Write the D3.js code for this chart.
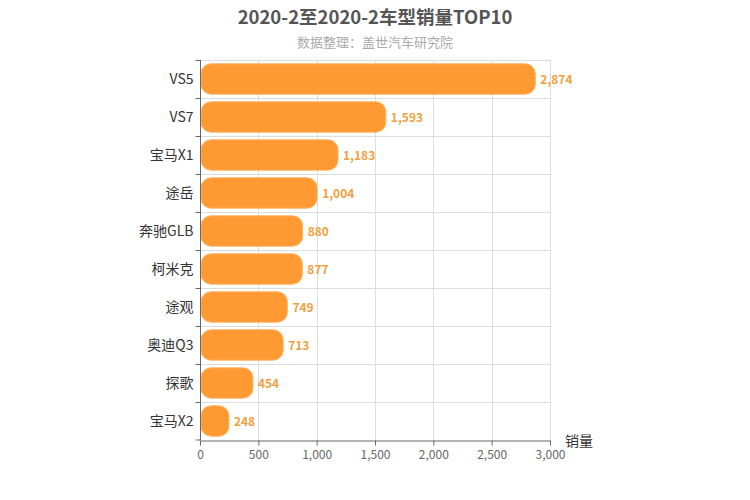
<!DOCTYPE html>
<html>
<head>
<meta charset="utf-8">
<script src="https://cdn.jsdelivr.net/npm/d3@7"></script>
<style>
  body { margin: 0; background: #fff; }
  svg { font-family: "Noto Sans CJK SC", "Noto Sans", sans-serif; }
</style>
</head>
<body>
<svg id="svg"></svg>
<script>
const models = ["VS5", "VS7", "宝马X1", "途岳", "奔驰GLB", "柯米克", "途观", "奥迪Q3", "探歌", "宝马X2"];
const sales = [2874, 1593, 1183, 1004, 880, 877, 749, 713, 454, 248];
const xTicks = [0, 500, 1000, 1500, 2000, 2500, 3000];

const layout = {width: 750, height: 500, left: 200, right: 550, top: 60, bottom: 440};

const svg = d3.select("#svg").attr("width", layout.width).attr("height", layout.height);

const x = d3.scaleLinear().domain([0, 3000]).range([layout.left, layout.right]);
const y = d3.scaleBand().domain(models).range([layout.top, layout.bottom]);

// title
svg.append("text").attr("x", 375).attr("y", 24).attr("text-anchor", "middle")
   .attr("font-size", 18.5).attr("font-weight", "bold").attr("fill", "#555")
   .text("2020-2至2020-2车型销量TOP10");
svg.append("text").attr("x", 375).attr("y", 47).attr("text-anchor", "middle")
   .attr("font-size", 13).attr("fill", "#aaa")
   .text("数据整理：盖世汽车研究院");

// grid
const grid = svg.append("g").attr("stroke", "#ddd").attr("stroke-width", 1);
grid.selectAll(".vg").data(xTicks.slice(1)).join("line")
    .attr("x1", d => Math.round(x(d)) + 0.5).attr("x2", d => Math.round(x(d)) + 0.5)
    .attr("y1", layout.top).attr("y2", layout.bottom);
grid.selectAll(".hg").data(models).join("line")
    .attr("x1", layout.left).attr("x2", layout.right)
    .attr("y1", d => Math.round(y(d)) + 0.5).attr("y2", d => Math.round(y(d)) + 0.5);

// bars
const bh = y.bandwidth() * 0.8;
svg.selectAll(".bar").data(models).join("rect")
   .attr("x", layout.left + 1)
   .attr("y", d => y(d) + (y.bandwidth() - bh) / 2)
   .attr("width", (d, i) => x(sales[i]) - layout.left - 1)
   .attr("height", bh)
   .attr("rx", 10).attr("ry", 10)
   .attr("fill", "#ff9a33").attr("stroke", "#ffb366").attr("stroke-width", 1);

svg.selectAll(".lbl").data(models).join("text")
   .attr("x", (d, i) => x(sales[i]) + 5)
   .attr("y", d => y(d) + y.bandwidth() / 2 + 5)
   .attr("font-size", 12).attr("font-weight", "bold").attr("fill", "#f0a040")
   .text((d, i) => d3.format(",")(sales[i]));

// axes
const xAxis = svg.append("g").attr("transform", `translate(0,${layout.bottom + 0.5})`)
   .call(d3.axisBottom(x).tickValues(xTicks).tickSize(5).tickSizeOuter(0).tickPadding(5));
xAxis.select(".domain").attr("stroke", "#666");
xAxis.selectAll(".tick line").attr("stroke", "#666");
xAxis.selectAll("text").attr("fill", "#666").attr("font-size", 12)
     .attr("font-family", "\"Noto Sans CJK SC\", sans-serif");

const yAxis = svg.append("g").attr("transform", `translate(${layout.left + 0.5},0)`);
yAxis.append("line").attr("x1", 0).attr("x2", 0).attr("y1", layout.top).attr("y2", layout.bottom).attr("stroke", "#666");
yAxis.selectAll(".yt").data(models.concat(["end"])).join("line")
     .attr("x1", -5).attr("x2", 0)
     .attr("y1", d => (d === "end" ? layout.bottom : Math.round(y(d)) + 0.5))
     .attr("y2", d => (d === "end" ? layout.bottom : Math.round(y(d)) + 0.5))
     .attr("stroke", "#666");
yAxis.selectAll(".yl").data(models).join("text")
     .attr("x", -7).attr("y", d => y(d) + y.bandwidth() / 2 + 5)
     .attr("text-anchor", "end").attr("font-size", 14).attr("fill", "#333")
     .text(d => d);

svg.append("text").attr("x", 565).attr("y", 446).attr("font-size", 14).attr("fill", "#333").text("销量");
</script>
</body>
</html>
